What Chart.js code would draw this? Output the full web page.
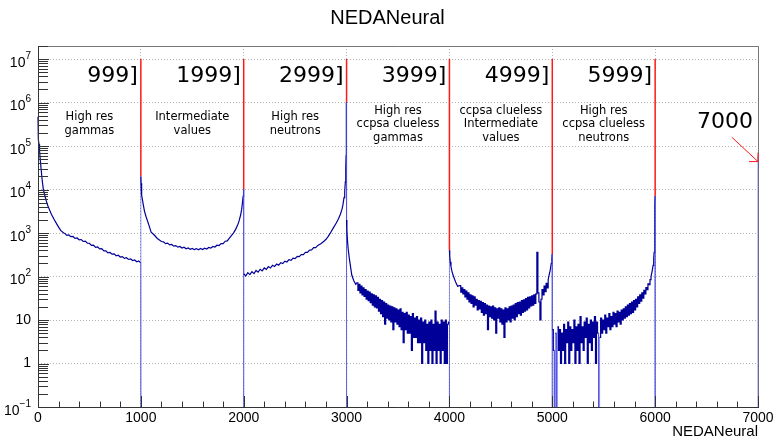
<!DOCTYPE html>
<html>
<head>
<meta charset="utf-8">
<script src="https://cdn.jsdelivr.net/npm/chart.js@4/dist/chart.umd.min.js"></script>
<style>
  html, body { margin: 0; padding: 0; background: #fff; }
  canvas { display: block; }
</style>
</head>
<body>
<canvas id="c" width="775" height="439"></canvas>
<script>
const gammaBins = [0, 1, 3, 6, 10, 15, 20, 30, 40, 52, 65, 80, 95, 110, 130, 160, 190, 220, 250,
  260, 280, 300, 320, 340, 360, 380, 400, 420, 440, 460, 480, 500, 520, 540, 560, 580, 600, 620, 640,
  660, 680, 700, 720, 740, 760, 780, 800, 820, 840, 860, 880, 900, 920, 940, 960, 980, 999];
const gammaCounts = [470000, 300000, 200000, 140000, 110000, 80000, 55000, 30000, 17000, 10000, 7500, 5500, 4300, 3500, 2700, 2000, 1500, 1150, 1000,
  990, 885, 905, 825, 835, 755, 772, 700, 710, 640, 650, 582, 582, 520, 525, 470, 479, 432, 438, 388,
  391, 351, 358, 326, 332, 301, 309, 281, 288, 262, 270, 247, 255, 233, 240, 219, 227, 206];

const intermBins = [1000, 1000, 1002, 1005, 1010, 1020, 1035, 1050, 1075, 1100, 1130, 1160, 1200,
  1220, 1240, 1260, 1280, 1300, 1320, 1340, 1360, 1380, 1400, 1420, 1440, 1460, 1480, 1500, 1520, 1540,
  1560, 1580, 1600, 1620, 1640, 1660, 1680, 1700, 1720, 1740, 1760, 1780, 1800, 1820, 1840,
  1870, 1900, 1920, 1940, 1955, 1970, 1980, 1988, 1994, 1998, 1999];
const intermCounts = [0, 20000, 14000, 10000, 7500, 5000, 3200, 2400, 1600, 1050, 900, 750, 640,
  628, 572, 587, 534, 546, 500, 515, 473, 490, 451, 471, 436, 455, 423, 444, 415, 439,
  412, 440, 417, 449, 430, 466, 449, 490, 477, 525, 516, 575, 572, 649, 660,
  820, 1000, 1200, 1500, 1900, 2600, 3500, 5000, 7000, 9000, 10000];

const neutronBins = [2000, 2000, 2020, 2040, 2060, 2080, 2100, 2120, 2140, 2160, 2180, 2200, 2220, 2240,
  2260, 2280, 2300, 2320, 2340, 2360, 2380, 2400, 2420, 2440, 2460, 2480, 2500, 2520, 2540, 2560, 2580,
  2600, 2620, 2640, 2660, 2680, 2700, 2720, 2750, 2780, 2800, 2820, 2840, 2870, 2900, 2920, 2940, 2955,
  2965, 2975, 2982, 2988, 2992, 2995, 2997, 2998, 2999];
const neutronCounts = [0, 116, 103, 123, 111, 130, 117, 138, 126, 147, 135, 158, 146, 169,
  157, 181, 170, 194, 183, 208, 198, 225, 216, 245, 236, 266, 259, 292, 286, 321, 320,
  360, 361, 406, 408, 460, 462, 520, 570, 650, 720, 830, 980, 1300, 1700, 2100, 2700, 3500,
  4500, 6500, 9000, 15000, 30000, 60000, 150000, 400000, 1000000];

// ccpsa clueless gammas: sharp edge, then noisy tail in 10-bin groups from 3100
const ccGammaEdgeBins = [3000, 3000, 3003, 3008, 3015, 3025, 3040, 3050, 3070, 3090];
const ccGammaEdgeCounts = [0, 2000, 1200, 700, 450, 280, 160, 110, 80, 66];
const ccGammaNoise = [72, 48, 66, 42, 60, 38, 55, 35, 50, 30,
  46, 28, 44, 25, 40, 22, 38, 20, 36, 19,
  33, 16, 30, 14, 28, 12, 26, 8, 24, 11,
  22, 10, 21, 9, 20, 6, 19, 9, 18, 8,
  17, 7, 18, 6, 15, 3, 14, 6, 15, 5,
  13, 5, 12, 2, 14, 4, 11, 4, 12, 3,
  10, 3, 11, 1, 9, 3, 10, 2, 8, 1,
  9, 2, 10, 1, 8, 2, 16, 1, 9, 2,
  8, 1, 10, 2, 9, 1, 10, 1, 8, 9];

// ccpsa clueless intermediate values
const ccIntermEdgeBins = [4000, 4000, 4003, 4008, 4015, 4025, 4040, 4060, 4080];
const ccIntermEdgeCounts = [0, 400, 300, 220, 170, 130, 100, 75, 60];
const ccIntermNoise = [62, 44, 55, 40, 50, 34, 46, 30, 42, 26,
  38, 24, 36, 20, 34, 22, 30, 17, 28, 18,
  27, 15, 25, 13, 24, 14, 22, 6, 21, 12,
  20, 11, 21, 10, 19, 5, 18, 11, 19, 9,
  18, 8, 17, 4, 19, 9, 18, 10, 20, 9,
  21, 11, 22, 10, 24, 12, 25, 14, 26, 13,
  28, 15, 29, 16, 31, 17, 33, 19, 34, 21,
  36, 22, 38, 24, 40, 360, 42, 26, 10, 30,
  50, 38, 60, 45, 70, 55];
const ccIntermTailBins = [4960, 4970, 4980, 4990, 4996, 4999];
const ccIntermTailCounts = [85, 110, 140, 200, 260, 330];

// ccpsa clueless neutrons
const ccNeutronNoise = [6, 2, 0, 5, 0, 7, 2, 6, 1, 5,
  2, 8, 1, 6, 3, 9, 1, 7, 2, 6,
  3, 10, 1, 7, 2, 8, 1, 12, 3, 7,
  2, 9, 4, 11, 1, 8, 3, 10, 2, 9,
  4, 12, 1, 9, 5, 0, 4, 11, 5, 10,
  6, 13, 5, 11, 7, 14, 6, 12, 7, 15,
  8, 14, 7, 16, 9, 15, 8, 17, 10, 18,
  11, 20, 12, 22, 13, 24, 14, 26, 15, 28,
  17, 30, 20, 34, 24, 38, 27, 42, 32, 48,
  40, 56, 50, 68, 65, 85];
const ccNeutronTailBins = [5960, 5970, 5980, 5986, 5990, 5993, 5995, 5997, 5998, 5999];
const ccNeutronTailCounts = [100, 130, 180, 260, 360, 550, 900, 2000, 4000, 7000];

// empty up to the single last bin
const lastBins = [6000, 7000, 7000];
const lastCounts = [0, 0, 60000];

const boundaryBins = [1000, 2000, 3000, 4000, 5000, 6000];
const rangeLabels = ['999]', '1999]', '2999]', '3999]', '4999]', '5999]'];
const regionNames = [
  ['High res', 'gammas'],
  ['Intermediate', 'values'],
  ['High res', 'neutrons'],
  ['High res', 'ccpsa clueless', 'gammas'],
  ['ccpsa clueless', 'Intermediate', 'values'],
  ['High res', 'ccpsa clueless', 'neutrons']
];

// empty bins drop below the log axis floor, like ROOT does
const belowFloor = 1e-3;
const shown = c => (c > 0 ? c : belowFloor);
function pts(bins, counts) {
  return bins.map((b, i) => ({ x: b, y: shown(counts[i]) }));
}
// grouped noisy counts drawn as histogram steps (flat top over each group)
function steps(start, width, counts) {
  const out = [];
  counts.forEach((c, i) => {
    out.push({ x: start + i * width, y: shown(c) }, { x: start + (i + 1) * width, y: shown(c) });
  });
  return out;
}

const histogram = [].concat(
  pts(gammaBins, gammaCounts),
  pts(intermBins, intermCounts),
  pts(neutronBins, neutronCounts),
  pts(ccGammaEdgeBins, ccGammaEdgeCounts), steps(3100, 10, ccGammaNoise),
  pts(ccIntermEdgeBins, ccIntermEdgeCounts), steps(4100, 10, ccIntermNoise), pts(ccIntermTailBins, ccIntermTailCounts),
  [{ x: 5000, y: belowFloor }], steps(5000, 10, ccNeutronNoise), pts(ccNeutronTailBins, ccNeutronTailCounts),
  pts(lastBins, lastCounts)
);

// red separators go from 1e7 down to the content next to the boundary
const separators = boundaryBins.map(b => {
  const near = histogram.filter(p => p.x >= b - 1 && p.x <= b).map(p => p.y);
  return {
    label: 'sep' + b,
    data: [{ x: b, y: 1e7 }, { x: b, y: Math.max(...near) }],
    borderColor: '#ff1a1a',
    borderWidth: 1.5,
    pointRadius: 0
  };
});

const isDecade = v => Math.abs(Math.log10(v) - Math.round(Math.log10(v))) < 1e-6;
const helv = '"Liberation Sans", Arial, sans-serif';
const djv = '"DejaVu Sans", sans-serif';

const rootDecor = {
  id: 'rootDecor',
  beforeDatasetsDraw(chart) {
    const { ctx, chartArea: a } = chart;
    ctx.save();
    ctx.strokeStyle = '#777';
    ctx.lineWidth = 1;
    ctx.beginPath();
    ctx.moveTo(a.left, a.top + 0.5);
    ctx.lineTo(a.right + 0.5, a.top + 0.5);
    ctx.lineTo(a.right + 0.5, a.bottom);
    ctx.stroke();
    ctx.restore();
  },
  afterDatasetsDraw(chart) {
    const { ctx, chartArea: a, scales: { x, y } } = chart;
    ctx.save();

    // axes
    ctx.strokeStyle = '#333';
    ctx.lineWidth = 1;
    ctx.beginPath();
    ctx.moveTo(a.left + 0.5, a.top);
    ctx.lineTo(a.left + 0.5, a.bottom + 0.5);
    ctx.lineTo(a.right + 1, a.bottom + 0.5);
    ctx.stroke();

    // y ticks (decades + 2..9 minors), inward
    ctx.beginPath();
    y.ticks.forEach(t => {
      for (let m = 1; m <= 9; m++) {
        const v = t.value * m;
        if (v > y.max) break;
        const py = Math.round(y.getPixelForValue(v)) + 0.5;
        ctx.moveTo(a.left, py);
        ctx.lineTo(a.left + (m === 1 ? 11 : 10), py);
      }
    });
    // x ticks, majors every 1000, minors every 200
    x.ticks.forEach((t, i) => {
      const next = x.ticks[i + 1];
      const px = Math.round(x.getPixelForValue(t.value)) + 0.5;
      ctx.moveTo(px, a.bottom);
      ctx.lineTo(px, a.bottom - 11);
      if (next) {
        for (let k = 1; k < 5; k++) {
          const mx = Math.round(x.getPixelForValue(t.value + (next.value - t.value) * k / 5)) + 0.5;
          ctx.moveTo(mx, a.bottom);
          ctx.lineTo(mx, a.bottom - 5.5);
        }
      }
    });
    ctx.stroke();

    // tick labels
    ctx.fillStyle = '#000';
    ctx.font = '14px ' + helv;
    ctx.textAlign = 'center';
    ctx.textBaseline = 'middle';
    x.ticks.forEach(t => ctx.fillText(String(t.value), x.getPixelForValue(t.value), a.bottom + 11));

    y.ticks.forEach(t => {
      const e = Math.round(Math.log10(t.value));
      const py = y.getPixelForValue(t.value);
      const right = a.left - 7;
      ctx.textAlign = 'right';
      if (e === 0 || e === 1) {
        ctx.font = '14px ' + helv;
        ctx.fillText(e === 0 ? '1' : '10', right, py);
      } else {
        ctx.font = '10px ' + helv;
        const sup = String(e).replace('-', '\u2212');
        const w = ctx.measureText(sup).width;
        ctx.fillText(sup, right, py - 3);
        ctx.font = '14px ' + helv;
        ctx.fillText('10', right - w, py + 4);
      }
    });

    // titles
    ctx.textAlign = 'center';
    ctx.font = '20px ' + helv;
    ctx.fillText('NEDANeural', chart.width / 2, 18);
    ctx.textAlign = 'right';
    ctx.font = '15px ' + helv;
    ctx.fillText('NEDANeural', a.right, 432);

    // range labels and region names
    ctx.font = '22px ' + djv;
    ctx.textAlign = 'right';
    boundaryBins.forEach((b, i) => {
      ctx.fillText(rangeLabels[i], x.getPixelForValue(b) - 3, y.getPixelForValue(4e6));
    });
    ctx.font = '11.5px ' + djv;
    ctx.textAlign = 'center';
    boundaryBins.forEach((b, i) => {
      const lines = regionNames[i];
      const cy = y.getPixelForValue(3.2e5);
      const cx = x.getPixelForValue(b - 500);
      lines.forEach((s, k) => ctx.fillText(s, cx, cy + (k - (lines.length - 1) / 2) * 13.5));
    });

    // 7000 arrow
    ctx.font = '22px ' + djv;
    ctx.textAlign = 'right';
    ctx.fillText('7000', x.getPixelForValue(7000) - 5, y.getPixelForValue(3.5e5));
    const x0 = x.getPixelForValue(6745), y0 = y.getPixelForValue(1.6e5);
    const x1 = x.getPixelForValue(7000), y1 = y.getPixelForValue(4.4e4);
    ctx.strokeStyle = '#ff1a1a';
    ctx.lineWidth = 1;
    ctx.beginPath();
    ctx.moveTo(x0, y0);
    ctx.lineTo(x1, y1);
    ctx.moveTo(x1 - 9, y1);
    ctx.lineTo(x1, y1);
    ctx.lineTo(x1, y1 - 9);
    ctx.stroke();

    ctx.restore();
  }
};

const touchesEmpty = c => c.p0.parsed.y <= belowFloor || c.p1.parsed.y <= belowFloor;

new Chart(document.getElementById('c').getContext('2d'), {
  type: 'line',
  data: {
    datasets: [
      {
        label: 'NEDANeural',
        data: histogram,
        borderColor: '#000099',
        borderWidth: 1.2,
        pointRadius: 0,
        tension: 0,
        clip: { left: 1, top: 1, right: 3, bottom: 0 },
        segment: {
          borderColor: c => touchesEmpty(c) ? 'rgba(70,70,220,0.6)' : undefined,
          borderWidth: c => touchesEmpty(c) ? 1 : undefined
        }
      },
      ...separators
    ]
  },
  options: {
    responsive: false,
    animation: false,
    events: [],
    layout: { padding: { left: 38, right: 17, top: 46, bottom: 32 } },
    plugins: { legend: { display: false }, tooltip: { enabled: false } },
    scales: {
      x: {
        type: 'linear', min: 0, max: 7000,
        ticks: { display: false, stepSize: 1000 },
        grid: { color: '#b4b4b4', drawTicks: false },
        border: { display: false, dash: [1, 2] }
      },
      y: {
        type: 'logarithmic', min: 0.1, max: 2e7,
        afterBuildTicks: scale => { scale.ticks = scale.ticks.filter(t => isDecade(t.value)); },
        ticks: { display: false },
        grid: { color: '#b4b4b4', drawTicks: false },
        border: { display: false, dash: [1, 2] }
      }
    }
  },
  plugins: [rootDecor]
});
</script>
</body>
</html>
